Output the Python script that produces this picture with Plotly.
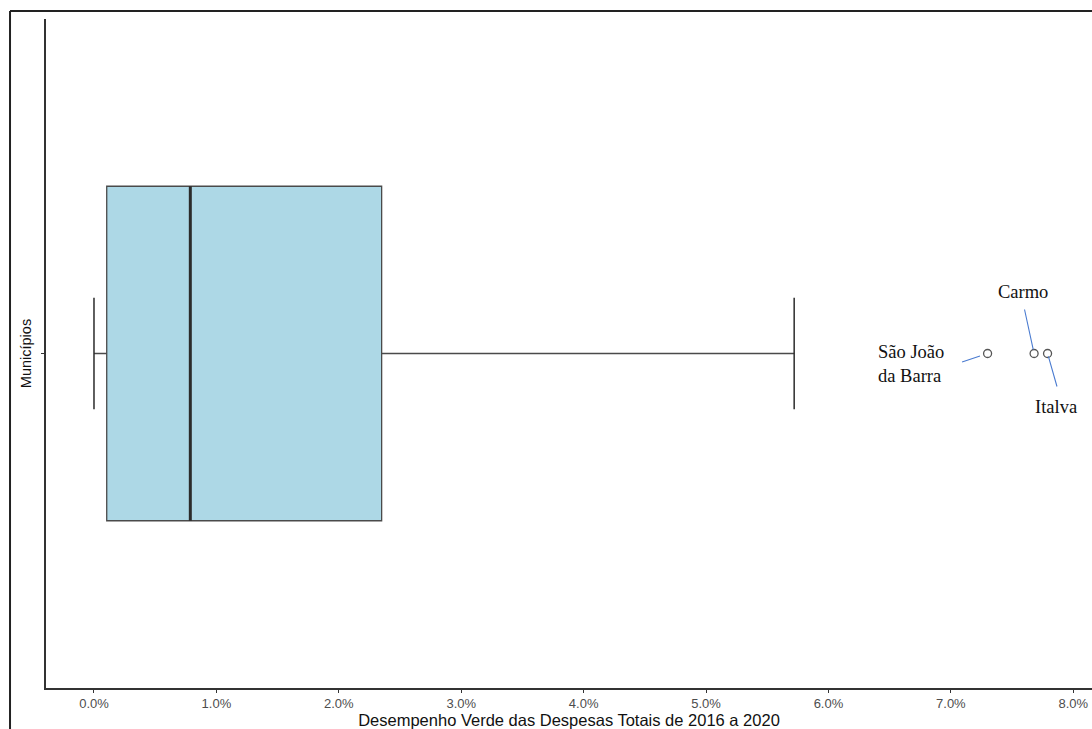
import plotly.graph_objects as go

# Five-number summary of the green share of total spending (2016-2020)
q1 = [0.00104]
median = [0.00787]
q3 = [0.0235]
whisker_low = [0.0]
whisker_high = [0.0572]

# Outlying municipalities
outlier_names = ["São João<br>da Barra", "Carmo", "Italva"]
outlier_values = [0.0730, 0.0768, 0.0779]

x_ticks = [0.0, 0.01, 0.02, 0.03, 0.04, 0.05, 0.06, 0.07, 0.08]

BOX_POS = 0.0
BOX_HALF = 0.30
CAP_HALF = 0.10
AXIS_COLOR = "#333333"

fig = go.Figure()

fig.add_trace(go.Box(
    q1=q1, median=median, q3=q3,
    lowerfence=whisker_low, upperfence=whisker_high,
    y=[BOX_POS], orientation="h", width=2 * BOX_HALF,
    fillcolor="#ADD8E6",
    line=dict(color="#4a4a4a", width=1.3),
    boxpoints=False, whiskerwidth=0, hoverinfo="skip",
    showlegend=False,
))

# Heavier median line
fig.add_trace(go.Scatter(
    x=[median[0], median[0]], y=[BOX_POS - BOX_HALF, BOX_POS + BOX_HALF],
    mode="lines", line=dict(color="#2b2b2b", width=3),
    hoverinfo="skip", showlegend=False,
))

# Whisker end caps
cap_x, cap_y = [], []
for w in (whisker_low[0], whisker_high[0]):
    cap_x += [w, w, None]
    cap_y += [BOX_POS - CAP_HALF, BOX_POS + CAP_HALF, None]
fig.add_trace(go.Scatter(
    x=cap_x, y=cap_y, mode="lines",
    line=dict(color="#2b2b2b", width=1.5),
    hoverinfo="skip", showlegend=False,
))

# Outlier points
fig.add_trace(go.Scatter(
    x=outlier_values, y=[BOX_POS] * len(outlier_values),
    mode="markers",
    marker=dict(symbol="circle-open", size=8, color="#555555", line=dict(width=1.3)),
    hoverinfo="skip", showlegend=False,
))

# Labels and leader lines: (label shift x, shift y, anchor, leader ax, ay, standoff)
label_style = [
    (-42, -10, "right", -27, 9, 8),
    (-11, 62, "center", -10, -46, 4),
    (8, -53, "center", 10, 35, 3),
]
serif = dict(family="Liberation Serif, Times New Roman, serif", size=18.5, color="#111111")
for name, val, (sx, sy, anchor, ax, ay, so) in zip(outlier_names, outlier_values, label_style):
    fig.add_annotation(
        x=val, y=BOX_POS, text=name, showarrow=False,
        xanchor=anchor, yanchor="middle", align="left",
        xshift=sx, yshift=sy, font=serif,
    )
    fig.add_annotation(
        x=val, y=BOX_POS, text=" ", font=dict(size=1),
        showarrow=True, arrowhead=0, arrowwidth=1.1, arrowcolor="#4a7bd0",
        ax=ax, ay=ay, standoff=so,
    )

# Outer frame: left and top edges
frame = dict(color="#222222", width=2)
fig.add_shape(type="line", xref="paper", yref="paper",
              x0=-0.0344, x1=-0.0344, y0=-0.0613, y1=1.012, line=frame)
fig.add_shape(type="line", xref="paper", yref="paper",
              x0=-0.0344, x1=1.0, y0=1.012, y1=1.012, line=frame)

fig.update_layout(
    width=1092, height=729,
    margin=dict(l=46, r=0, t=19, b=41),
    paper_bgcolor="white", plot_bgcolor="white",
    font=dict(family="Liberation Sans, Arial, sans-serif"),
    xaxis=dict(
        range=[-0.00392, 0.08153],
        tickvals=x_ticks, tickformat=".1%",
        tickfont=dict(size=13, color="#4d4d4d"),
        ticks="outside", ticklen=3, tickcolor=AXIS_COLOR, tickwidth=1,
        showline=True, linecolor=AXIS_COLOR, linewidth=1.5,
        showgrid=False, zeroline=False,
        title=dict(text="Desempenho Verde das Despesas Totais de 2016 a 2020",
                   font=dict(size=16.5, color="#111111"), standoff=4),
    ),
    yaxis=dict(
        range=[-0.6, 0.6],
        tickvals=[BOX_POS], ticktext=[""],
        ticks="outside", ticklen=3, tickcolor=AXIS_COLOR,
        showline=True, linecolor=AXIS_COLOR, linewidth=1.5,
        showgrid=False, zeroline=False,
        title=dict(text="Municípios", font=dict(size=14.5, color="#111111"), standoff=4),
    ),
)

fig.write_html("out.html")
